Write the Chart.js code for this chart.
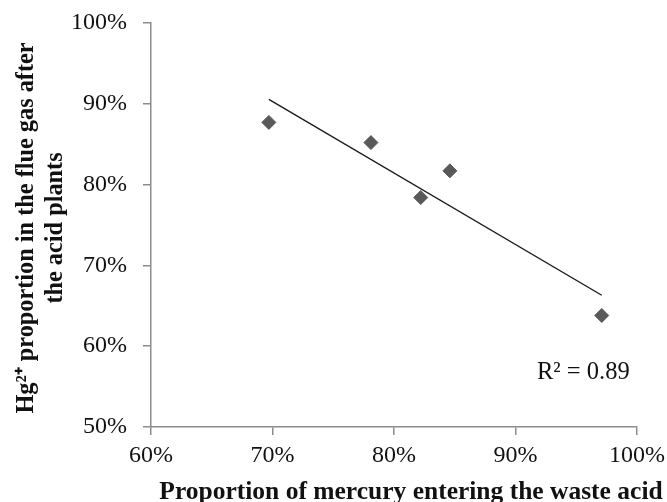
<!DOCTYPE html>
<html><head><meta charset="utf-8">
<script src="https://cdn.jsdelivr.net/npm/chart.js@4"></script>
<style>html,body{margin:0;padding:0;background:#fff}#wrap{width:667px;height:502px}</style>
</head><body><div id="wrap"><canvas id="c" width="667" height="502"></canvas></div>
<script>
// ---- data ----
const xValues = [69.7, 78.1, 82.2, 84.6, 97.1];   // % mercury entering waste acid
const yValues = [87.7, 85.2, 78.4, 81.7, 63.8];   // % Hg2+ in flue gas
const xTicks = [60, 70, 80, 90, 100];
const yTicks = [50, 60, 70, 80, 90, 100];
const rSquaredLabel = 'R\u00B2 = 0.89';
const xTitle = 'Proportion of mercury entering the waste acid';
const yTitle = ['Hg\u00B2\u207A proportion in the flue gas after', 'the acid plants'];

// linear least-squares trend line over the data range
function trend(xs, ys) {
  const n = xs.length;
  const mx = xs.reduce((a, b) => a + b, 0) / n;
  const my = ys.reduce((a, b) => a + b, 0) / n;
  let sxy = 0, sxx = 0;
  for (let i = 0; i < n; i++) { sxy += (xs[i] - mx) * (ys[i] - my); sxx += (xs[i] - mx) ** 2; }
  const b = sxy / sxx, a = my - b * mx;
  const x0 = Math.min(...xs), x1 = Math.max(...xs);
  return [{x: x0, y: a + b * x0}, {x: x1, y: a + b * x1}];
}

const points = xValues.map((x, i) => ({x: x, y: yValues[i]}));
const FONT = '"Liberation Serif", "Times New Roman", serif';
const AXIS = '#8c8c8c';

const textPlugin = {
  id: 'texts',
  afterDraw(chart) {
    const ctx = chart.ctx, ca = chart.chartArea;
    ctx.save();
    ctx.fillStyle = '#111';
    // R² label
    ctx.font = '24.5px ' + FONT;
    ctx.textAlign = 'left';
    ctx.textBaseline = 'alphabetic';
    ctx.fillText(rSquaredLabel, ca.left + 386, ca.top + 356);
    // x title
    ctx.font = 'bold 25.5px ' + FONT;
    ctx.textAlign = 'center';
    ctx.fillText(xTitle, ca.left + 260, 499);
    // y title
    ctx.translate(0, ca.top + 205);
    ctx.rotate(-Math.PI / 2);
    ctx.font = 'bold 24.3px ' + FONT;
    ctx.fillText(yTitle[0], 0, 33);
    ctx.fillText(yTitle[1], 0, 62);
    ctx.restore();
  }
};

function fixedTicks(list) {
  return function (scale) { scale.ticks = list.map(v => ({value: v})); };
}

new Chart(document.getElementById('c'), {
  type: 'scatter',
  data: {
    datasets: [
      {
        label: 'data',
        data: points,
        pointStyle: 'rectRot',
        pointRadius: 7,
        pointHoverRadius: 7,
        backgroundColor: '#595959',
        borderColor: '#595959',
        borderWidth: 1,
        order: 1
      },
      {
        label: 'trend',
        type: 'line',
        data: trend(xValues, yValues),
        borderColor: '#1a1a1a',
        borderWidth: 1.4,
        pointRadius: 0,
        fill: false,
        order: 2
      }
    ]
  },
  options: {
    responsive: false,
    animation: false,
    devicePixelRatio: 1,
    layout: {padding: {left: 0, top: 23, right: 30, bottom: 0}},
    plugins: {legend: {display: false}, tooltip: {enabled: false}},
    scales: {
      x: {
        type: 'linear', min: 60, max: 100,
        afterBuildTicks: fixedTicks(xTicks),
        afterFit(s) { s.height = 75; s.paddingLeft = 0; s.paddingRight = 0; },
        grid: {drawOnChartArea: false, drawTicks: true, tickLength: 8, color: AXIS, lineWidth: 1.5},
        border: {color: AXIS, width: 1.5},
        ticks: {font: {family: FONT, size: 24}, color: '#111', padding: 6, maxRotation: 0,
                callback: v => v + '%'}
      },
      y: {
        type: 'linear', min: 50, max: 100,
        afterBuildTicks: fixedTicks(yTicks),
        afterFit(s) { s.width = 151; s.paddingTop = 0; s.paddingBottom = 0; },
        grid: {drawOnChartArea: false, drawTicks: true, tickLength: 8, color: AXIS, lineWidth: 1.5},
        border: {color: AXIS, width: 1.5},
        ticks: {font: {family: FONT, size: 24}, color: '#111', padding: 16,
                callback: v => v + '%'}
      }
    }
  },
  plugins: [textPlugin]
});
</script>
</body></html>
